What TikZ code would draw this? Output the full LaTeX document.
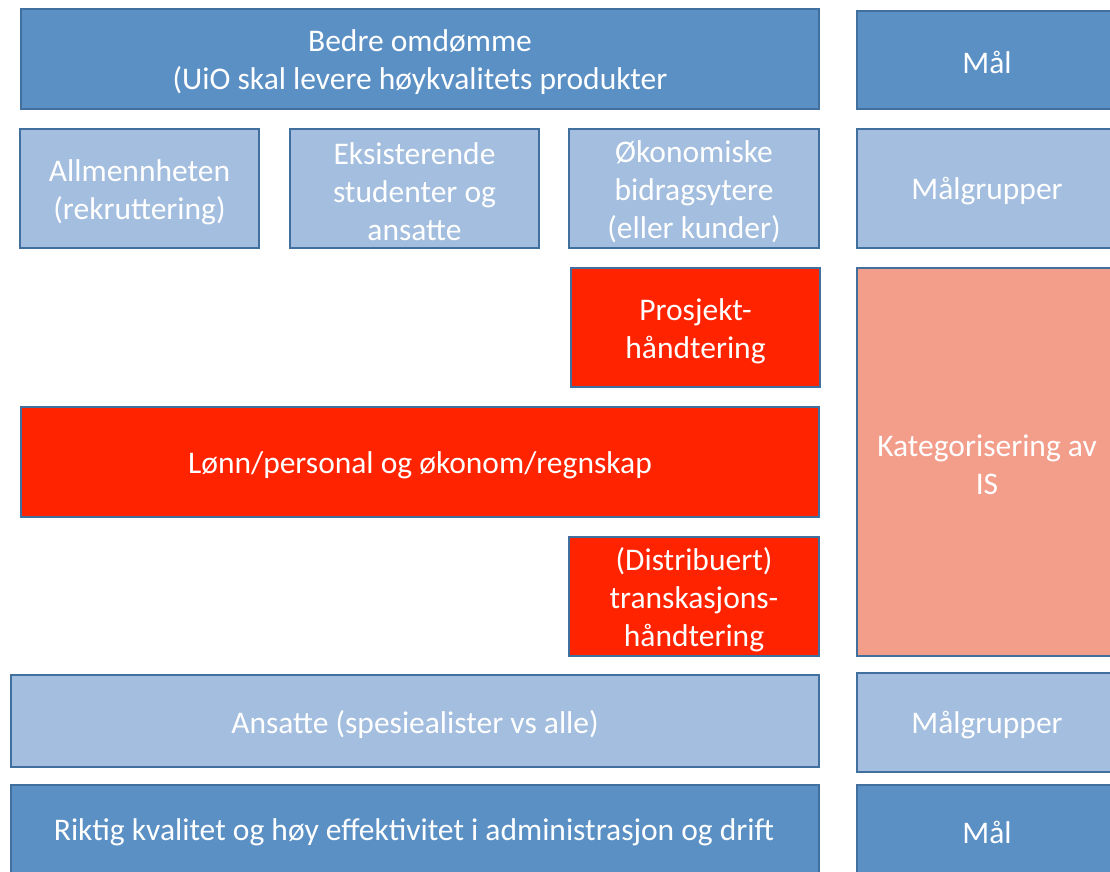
\documentclass[tikz,border=0pt]{standalone}
\usepackage{fontspec}
\setmainfont{Carlito}
\begin{document}
\begin{tikzpicture}[x=1pt,y=-1pt,
  box/.style={draw=edgeblue, line width=2pt, anchor=north west, inner sep=0pt},
  dk/.style={box, fill=darkblue},
  lt/.style={box, fill=lightblue},
  rd/.style={box, fill=redfill},
  sal/.style={box, fill=salmon},
  lbl/.style={text=white, align=center, inner sep=0pt, yshift=-3.5pt,
    font=\fontsize{31.5}{38}\selectfont}]
\definecolor{darkblue}{HTML}{5B90C5}
\definecolor{lightblue}{HTML}{A3BEDE}
\definecolor{edgeblue}{HTML}{41709F}
\definecolor{redfill}{HTML}{FF2300}
\definecolor{salmon}{HTML}{F39D8B}
\useasboundingbox (0,0) rectangle (1110,871);
\clip (0,0) rectangle (1110,871);
\node[dk, minimum width=798pt, minimum height=100pt] (top) at (20,8) {};
\node[lbl] (topt) at (top.center) {Bedre omdømme\\(UiO skal levere høykvalitets produkter};
\node[dk, minimum width=270pt, minimum height=98pt] (mal1) at (856,10) {};
\node[lbl] (mal1t) at (987,59) {Mål};
\node[lt, minimum width=239pt, minimum height=119pt] (allm) at (19,128) {};
\node[lbl] (allmt) at (allm.center) {Allmennheten\\(rekruttering)};
\node[lt, minimum width=249pt, minimum height=119pt] (eks) at (289,128) {};
\node[lbl] (ekst) at (eks.center) {Eksisterende\\studenter og\\ansatte};
\node[lt, minimum width=250pt, minimum height=119pt] (oko) at (568,128) {};
\node[lbl] (okot) at (oko.center) {Økonomiske\\bidragsytere\\(eller kunder)};
\node[lt, minimum width=270pt, minimum height=119pt] (mg1) at (856,128) {};
\node[lbl] (mg1t) at (987,187.5) {Målgrupper};
\node[rd, minimum width=249pt, minimum height=119pt] (pro) at (570,267) {};
\node[lbl] (prot) at (pro.center) {Prosjekt-\\håndtering};
\node[sal, minimum width=270pt, minimum height=388pt] (kat) at (856,267) {};
\node[lbl] (katt) at (987,461) {Kategorisering av\\IS};
\node[rd, minimum width=798pt, minimum height=110pt] (lonn) at (20,406) {};
\node[lbl] (lonnt) at (lonn.center) {Lønn/personal og økonom/regnskap};
\node[rd, minimum width=250pt, minimum height=119pt] (dist) at (568,536) {};
\node[lbl] (distt) at (dist.center) {(Distribuert)\\transkasjons-\\håndtering};
\node[lt, minimum width=808pt, minimum height=92pt] (ans) at (10,674) {};
\node[lbl] (anst) at (ans.center) {Ansatte (spesiealister vs alle)};
\node[lt, minimum width=270pt, minimum height=99pt] (mg2) at (856,672) {};
\node[lbl] (mg2t) at (987,721.5) {Målgrupper};
\node[dk, minimum width=808pt, minimum height=100pt] (rik) at (10,784) {};
\node[lbl] (rikt) at (414,829) {Riktig kvalitet og høy effektivitet i administrasjon og drift};
\node[dk, minimum width=270pt, minimum height=100pt] (mal2) at (856,784) {};
\node[lbl] (mal2t) at (987,829) {Mål};
\end{tikzpicture}
\end{document}
